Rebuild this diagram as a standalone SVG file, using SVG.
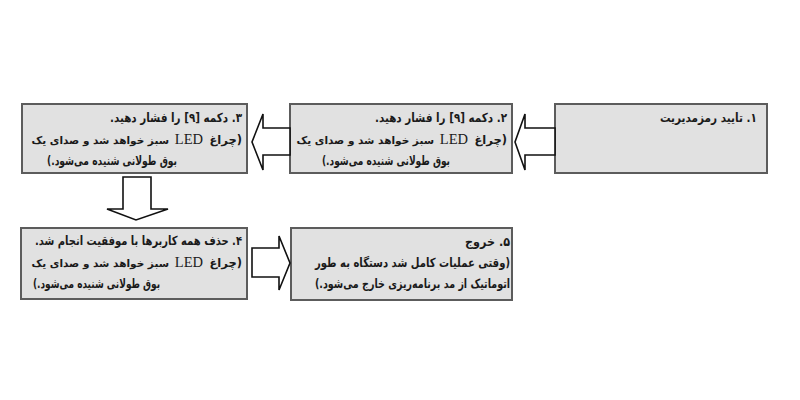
<svg xmlns="http://www.w3.org/2000/svg" width="800" height="400" viewBox="0 0 800 400">
<style>
.box{fill:#e1e1e1;stroke:#5c5c5c;stroke-width:2}
.arrow{fill:#ffffff;stroke:#111111;stroke-width:1.6;stroke-linejoin:miter}
.t{font-family:"DejaVu Sans","Noto Sans",sans-serif;font-size:12.5px;font-weight:bold;fill:#1a1a1a;text-anchor:end}
.p{font-size:11.5px}
.q{font-size:10.5px}
.led{font-family:"Liberation Serif",serif;font-size:14.5px;fill:#1a1a1a;text-anchor:end}
</style>
<rect width="800" height="400" fill="#ffffff"/>
<g id="node1">
<rect class="box" x="555" y="104" width="212" height="69"/>
<text class="t" x="757" y="122" textLength="97" lengthAdjust="spacingAndGlyphs">&#x200F;۱.  تایید رمزمدیریت&#x200F;</text>
</g>
<g id="node2">
<rect class="box" x="290" y="104" width="222" height="69"/>
<text class="t" x="507" y="122" textLength="132" lengthAdjust="spacingAndGlyphs">&#x200F;۲. دکمه [۹] را فشار دهید.&#x200F;</text>
<text class="t p" x="507" y="144">&#x200F;(چراغ&#x200F;</text>
<text class="led" x="468" y="144">LED</text>
<text class="t q" x="434" y="144">سبز خواهد شد و صدای یک</text>
<text class="t" x="450" y="165" textLength="128" lengthAdjust="spacingAndGlyphs">&#x200F;بوق طولانی شنیده می‌شود.)&#x200F;</text>
</g>
<g id="node3">
<rect class="box" x="22" y="104" width="225" height="69"/>
<text class="t" x="242" y="122" textLength="132" lengthAdjust="spacingAndGlyphs">&#x200F;۳. دکمه [۹] را فشار دهید.&#x200F;</text>
<text class="t p" x="242" y="144">&#x200F;(چراغ&#x200F;</text>
<text class="led" x="203" y="144">LED</text>
<text class="t q" x="169" y="144">سبز خواهد شد و صدای یک</text>
<text class="t" x="177" y="165" textLength="130" lengthAdjust="spacingAndGlyphs">&#x200F;بوق طولانی شنیده می‌شود.)&#x200F;</text>
</g>
<g id="node4">
<rect class="box" x="21" y="228" width="226" height="71"/>
<text class="t" x="242" y="245" textLength="207" lengthAdjust="spacingAndGlyphs">&#x200F;۴. حذف همه کاربرها با موفقیت انجام شد.&#x200F;</text>
<text class="t p" x="242" y="267">&#x200F;(چراغ&#x200F;</text>
<text class="led" x="203" y="267">LED</text>
<text class="t q" x="169" y="267">سبز خواهد شد و صدای یک</text>
<text class="t" x="160" y="288" textLength="127" lengthAdjust="spacingAndGlyphs">&#x200F;بوق طولانی شنیده می‌شود.)&#x200F;</text>
</g>
<g id="node5">
<rect class="box" x="291" y="228" width="221" height="72"/>
<text class="t" x="510" y="246" textLength="45" lengthAdjust="spacingAndGlyphs">&#x200F;۵. خروج&#x200F;</text>
<text class="t" x="510" y="267" textLength="195" lengthAdjust="spacingAndGlyphs">&#x200F;(وقتی عملیات کامل شد دستگاه به طور&#x200F;</text>
<text class="t" x="510" y="288" textLength="195" lengthAdjust="spacingAndGlyphs">&#x200F;اتوماتیک از مد برنامه‌ریزی خارج می‌شود.)&#x200F;</text>
</g>
<g id="connectors">
<polygon class="arrow" points="555,128 525,128 525,114 515,142 525,170 525,155 555,155"/>
<polygon class="arrow" points="290,128 263,128 263,114 252,142 263,170 263,155 290,155"/>
<polygon class="arrow" points="123,177 151,177 151,209 168,209 136,220 107,209 123,209"/>
<polygon class="arrow" points="252,248 279,248 279,236 290,263 279,290 279,277 252,277"/>
</g>
</svg>
